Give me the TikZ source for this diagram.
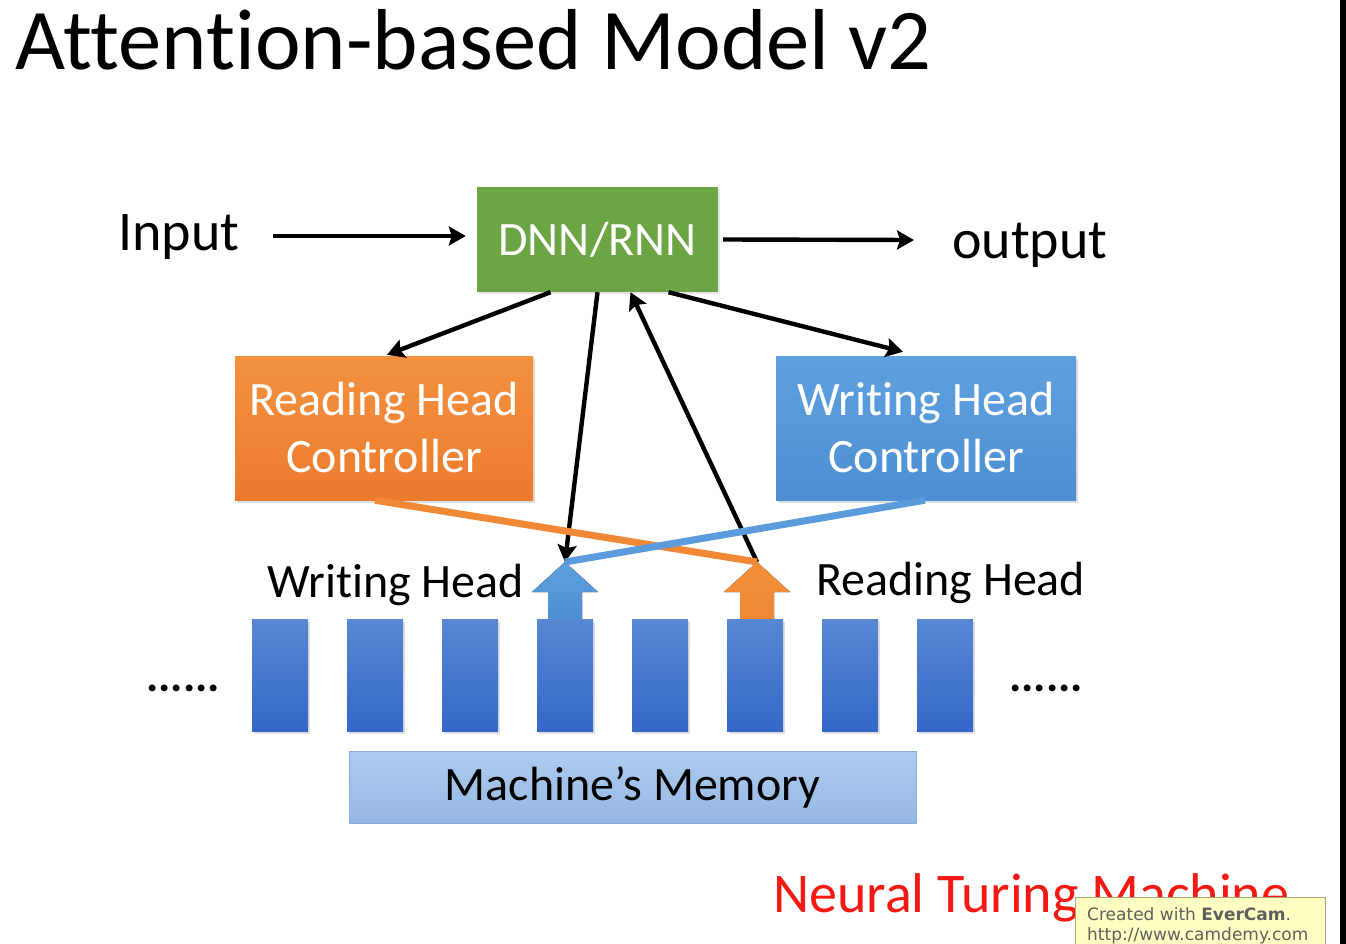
\documentclass[tikz,border=0pt]{standalone}
\usepackage{fontspec}
\setmainfont{Carlito}[Ligatures=NoCommon]
\newfontfamily\wmfont{DejaVu Sans}
\usetikzlibrary{arrows.meta,calc,shadows}
\definecolor{dnngreen}{HTML}{6BA544}
\definecolor{orgtop}{HTML}{F2923F}
\definecolor{orgbot}{HTML}{EC7A2C}
\definecolor{bluetop}{HTML}{5FA0DE}
\definecolor{bluebot}{HTML}{4E8FD3}
\definecolor{celltop}{HTML}{5887D3}
\definecolor{cellbot}{HTML}{3467C8}
\definecolor{memtop}{HTML}{AECBEE}
\definecolor{membot}{HTML}{95B8E4}
\definecolor{memline}{HTML}{8AACDA}
\definecolor{lineorange}{HTML}{F08836}
\definecolor{lineblue}{HTML}{5B9BDB}
\definecolor{ntmred}{HTML}{F21A12}
\definecolor{wmfill}{HTML}{FFFFC4}
\definecolor{wmline}{HTML}{A8A878}
\definecolor{wmtext}{HTML}{5F5F5F}
\tikzset{
  fs/.style={font=\fontsize{#1}{#1}\selectfont},
  arr/.style={draw=black, line width=4.4pt, -{Stealth[length=17pt,width=19pt,inset=3pt]}},
  ctrl/.style={minimum width=#1, minimum height=144pt, inner sep=0pt, align=center,
    text=white, fs=48, drop shadow={opacity=0.25, shadow xshift=2pt, shadow yshift=-3pt}},
  cell/.style={minimum width=56pt, minimum height=112pt, inner sep=0pt,
    top color=celltop, bottom color=cellbot,
    drop shadow={opacity=0.25, shadow xshift=2pt, shadow yshift=-3pt}},
  plainlbl/.style={inner sep=0pt, text=black},
  colline/.style={line width=7pt},
}
\begin{document}
\begin{tikzpicture}[x=1pt,y=-1pt]
\useasboundingbox (0,0) rectangle (1346,944);
\fill[white] (0,0) rectangle (1346,944);
\fill[black] (1340,0) rectangle (1346,944);

% title
\node[plainlbl, fs=86.5, anchor=base west] (title) at (15,70) {Attention-based Model v2};

% top row
\node[plainlbl, fs=56, anchor=base west] (input) at (118,250) {Input};
\node[minimum width=241pt, minimum height=105pt, inner sep=0pt, fill=dnngreen,
      text=white, fs=48, drop shadow={opacity=0.2, shadow xshift=2pt, shadow yshift=-2pt}] (dnn) at (597.5,239.5) {DNN/RNN};
\node[plainlbl, fs=56, anchor=base west] (output) at (952,258) {output};

\coordinate (inA) at (273,236);
\coordinate (outB) at (914,240);
\draw[arr] (inA) -- ([xshift=-11pt,yshift=3.5pt]dnn.west);
\draw[arr] ([xshift=5pt]dnn.east) -- (outB);

% controllers
\node[ctrl=298pt, top color=orgtop, bottom color=orgbot] (rhc) at (384,428) {Reading Head\\[9pt]Controller};
\node[ctrl=300pt, top color=bluetop, bottom color=bluebot] (whc) at (926,428) {Writing Head\\[9pt]Controller};

% block arrows (heads)
\coordinate (wtip) at (565,562);
\coordinate (rtip) at (757,562);
\fill[top color=bluetop, bottom color=bluebot]
  (wtip) -- ++(33,30) -- ++(-16,0) -- ++(0,27) -- ++(-34,0) -- ++(0,-27) -- ++(-16,0) -- cycle;
\fill[top color=orgtop!90!orange, bottom color=lineorange]
  (rtip) -- ++(33,30) -- ++(-16,0) -- ++(0,27) -- ++(-34,0) -- ++(0,-27) -- ++(-16,0) -- cycle;

% black arrows
\draw[arr] ([xshift=-47pt]dnn.south) -- ([xshift=3pt,yshift=1pt]rhc.north);
\draw[arr] ([xshift=71pt]dnn.south) -- ([xshift=-23pt,yshift=4pt]whc.north);
\draw[arr] (dnn.south) -- (wtip);
\draw[arr] (rtip) -- ([xshift=33pt]dnn.south);

% coloured lines
\draw[colline, draw=lineorange] ([xshift=-9pt]rhc.south) -- (rtip);
\draw[colline, draw=lineblue] ([xshift=-1pt]whc.south) -- (wtip);

% labels
\node[plainlbl, fs=48, anchor=base west] (wlab) at (267,597) {Writing Head};
\node[plainlbl, fs=48, anchor=base west] (rlab) at (816,595) {Reading Head};

% memory cells
\foreach \i in {0,...,7}{
  \node[cell] (c\i) at ({280+95*\i},675) {};
}
\node[plainlbl, font=\bfseries\fontsize{46}{46}\selectfont, anchor=base west] (ldots) at (146,691) {......};
\node[plainlbl, font=\bfseries\fontsize{46}{46}\selectfont, anchor=base west] (rdots) at (1009,691) {......};

% memory bar
\node[minimum width=567pt, minimum height=72pt, inner sep=0pt, top color=memtop,
      bottom color=membot, draw=memline, line width=1pt, text=black, fs=48] (mem) at (632.5,787) {Machine’s Memory};

% NTM label
\node[plainlbl, fs=56, text=ntmred, anchor=base west] (ntm) at (773,912) {Neural Turing Machine};

% watermark
\node[anchor=north west, minimum width=250pt, minimum height=50pt, inner sep=0pt,
      fill=wmfill, draw=wmline, line width=1pt] (wm) at (1075,897) {};
\node[plainlbl, text=wmtext, font=\wmfont\fontsize{17}{17}\selectfont, anchor=base west] (wm1) at (1087,920) {Created with \textbf{EverCam}.};
\node[plainlbl, text=wmtext, font=\wmfont\fontsize{17}{17}\selectfont, anchor=base west] (wm2) at (1087,940) {http://www.camdemy.com};
\end{tikzpicture}
\end{document}
